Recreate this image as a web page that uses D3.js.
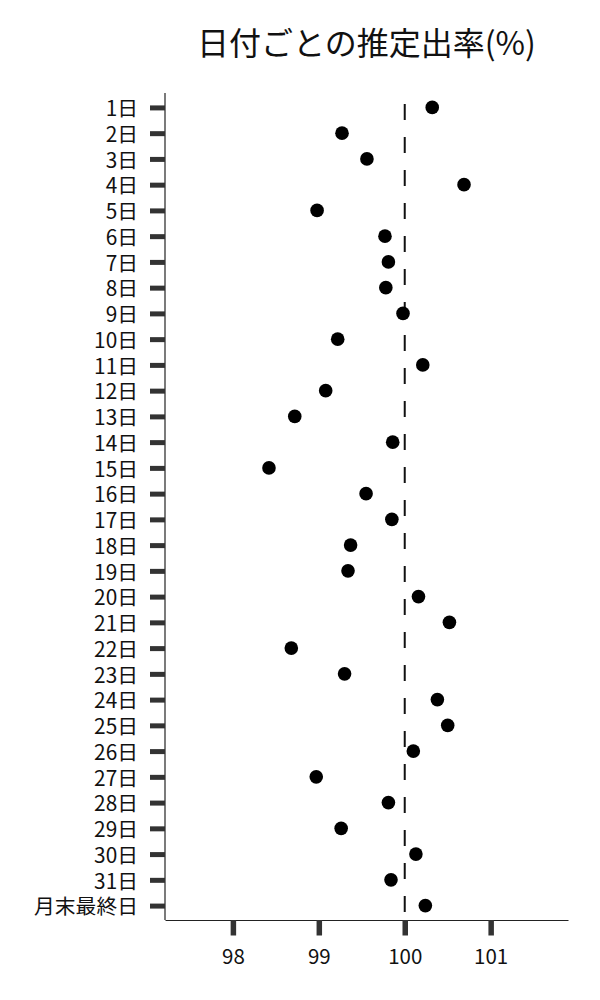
<!DOCTYPE html>
<html><head><meta charset="utf-8">
<script src="https://cdn.jsdelivr.net/npm/d3@7"></script>
<style>body{margin:0;background:#fff}svg{display:block}</style>
</head><body>
<svg id="chart" width="600" height="1000"></svg>
<script>
const title = "日付ごとの推定出率(%)";
const categories = ["1日","2日","3日","4日","5日","6日","7日","8日","9日","10日","11日","12日","13日","14日","15日","16日","17日","18日","19日","20日","21日","22日","23日","24日","25日","26日","27日","28日","29日","30日","31日","月末最終日"];
const values = [100.32,99.27,99.56,100.69,98.98,99.77,99.81,99.78,99.98,99.22,100.21,99.08,98.72,99.86,98.42,99.55,99.85,99.37,99.34,100.16,100.52,98.68,99.30,100.38,100.50,100.10,98.97,99.81,99.26,100.13,99.84,100.24];
const xTicks = [98,99,100,101];
const refValue = 100;

(function(){
const svg = d3.select("#chart");
const font = "'Noto Sans CJK JP','Noto Sans',sans-serif";
const pL = 165, pR = 568, pT = 93, pB = 920;

const x = d3.scaleLinear().domain([97.21,101.9]).range([pL,pR]);
const y = d3.scalePoint().domain(categories).range([pT,pB]).padding(0.56);

// x axis
const xa = svg.append("g").attr("transform",`translate(0,${pB})`)
  .call(d3.axisBottom(x).tickValues(xTicks).tickFormat(d3.format("d")).tickSize(15.5).tickSizeOuter(0).tickPadding(14));
xa.select(".domain").attr("stroke","#222").attr("stroke-width",1.2);
xa.selectAll(".tick line").attr("stroke","#333").attr("stroke-width",5.5);
xa.selectAll(".tick text").attr("font-family",font).attr("font-size",20.5).attr("fill","#111");

// y axis
const ya = svg.append("g").attr("transform",`translate(${pL},0)`)
  .call(d3.axisLeft(y).tickSize(15).tickSizeOuter(0).tickPadding(12));
ya.select(".domain").attr("d",`M0,${pT}V${pB}`).attr("stroke","#222").attr("stroke-width",1.2);
ya.selectAll(".tick line").attr("stroke","#333").attr("stroke-width",5);
ya.selectAll(".tick text").attr("font-family",font).attr("font-size",20.8).attr("fill","#111").attr("dy","0.4em");

// reference line
svg.append("line")
  .attr("x1",x(refValue)).attr("x2",x(refValue))
  .attr("y1",pT).attr("y2",pB)
  .attr("stroke","#111").attr("stroke-width",2)
  .attr("stroke-dasharray","16,17").attr("stroke-dashoffset",22);

// points
svg.append("g").selectAll("circle").data(categories).join("circle")
  .attr("cx",(d,i)=>x(values[i])).attr("cy",d=>y(d)).attr("r",6.8).attr("fill","#000");

// title
svg.append("text").attr("x",(pL+pR)/2).attr("y",55).attr("text-anchor","middle")
  .attr("font-family",font).attr("font-size",32).attr("fill","#111").text(title);
})();
</script>
</body></html>
